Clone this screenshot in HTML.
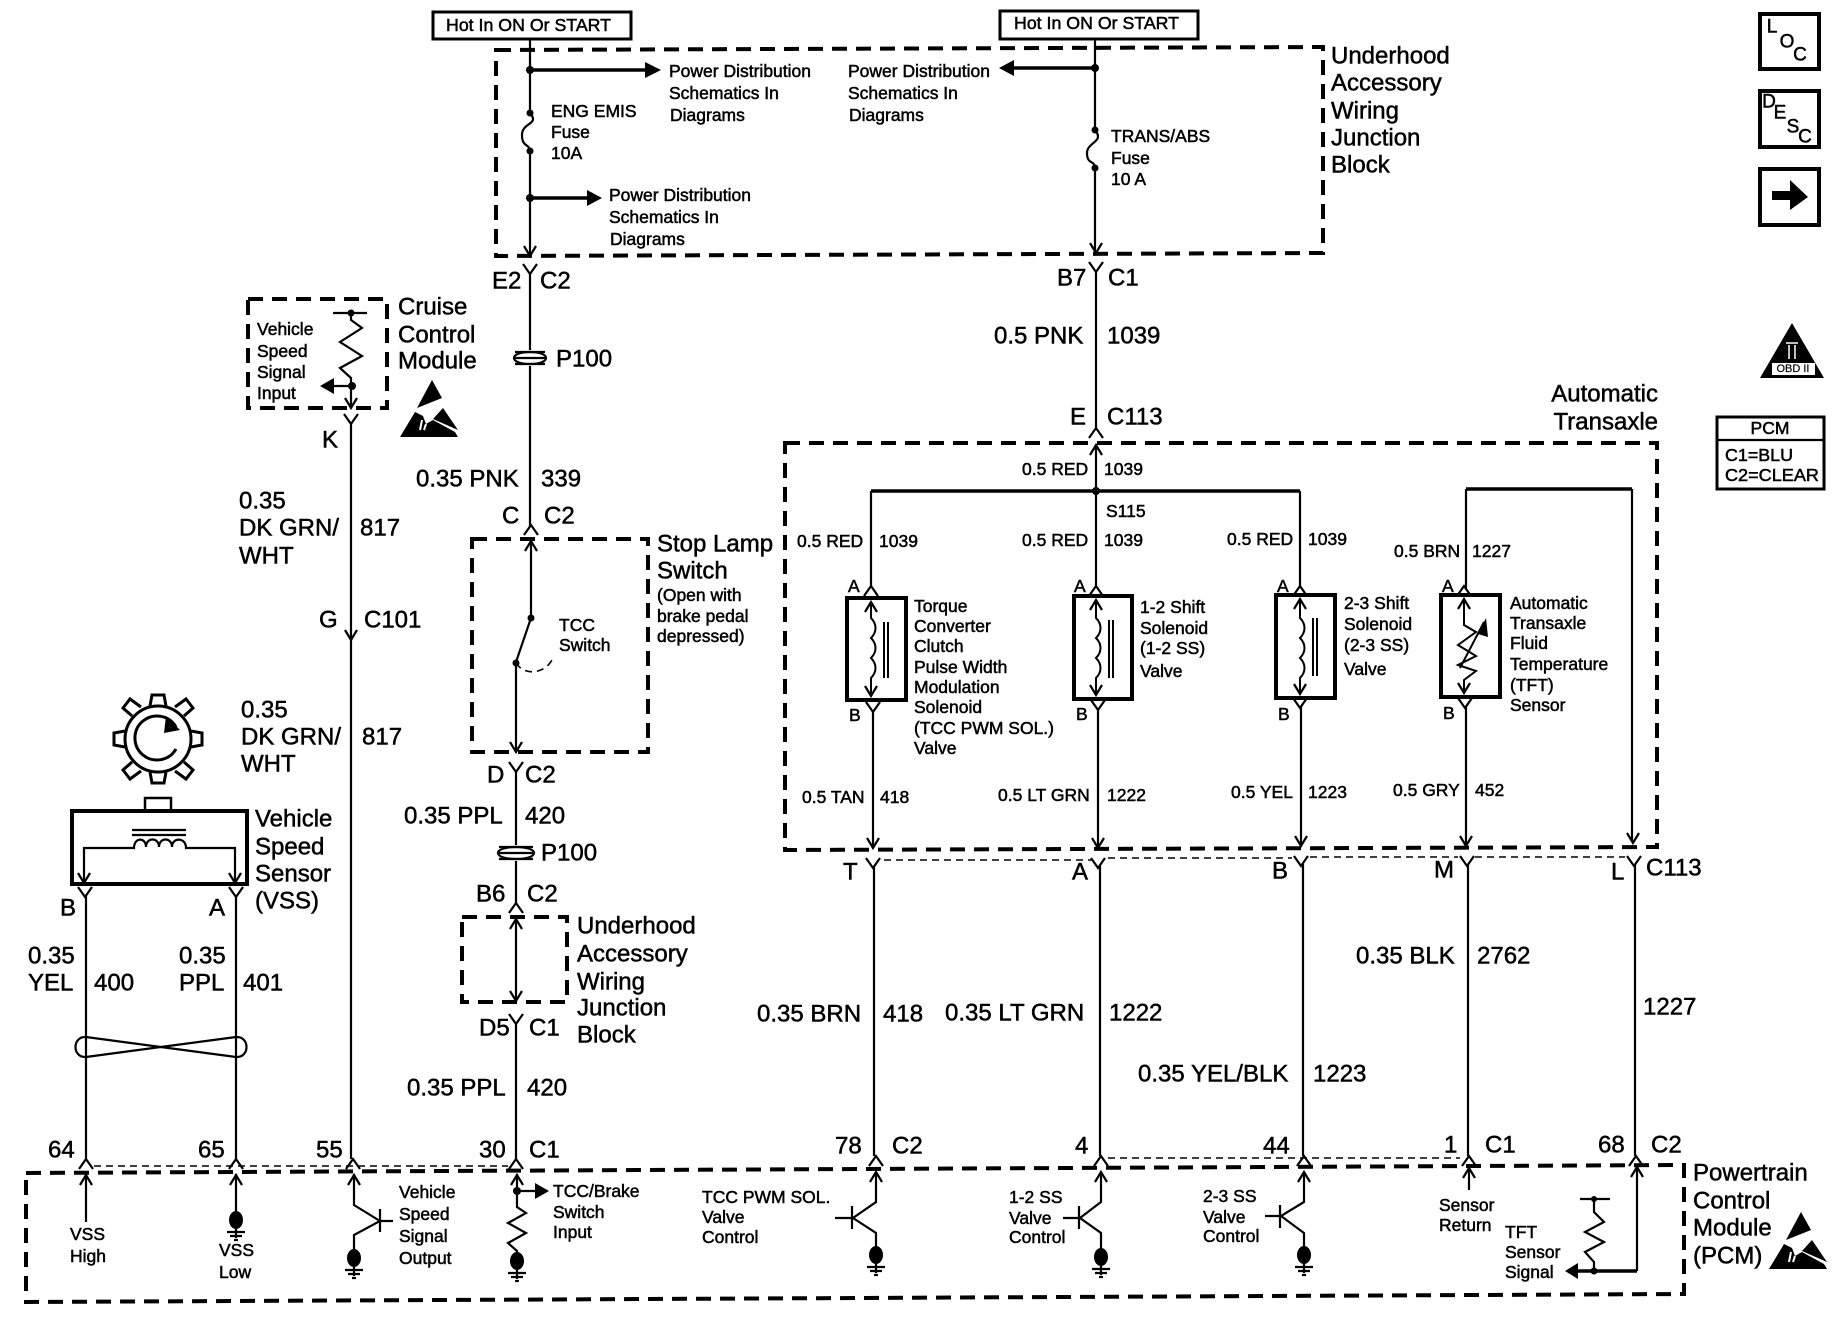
<!DOCTYPE html>
<html><head><meta charset="utf-8"><title>Wiring diagram</title>
<style>
html,body{margin:0;padding:0;background:#fff}
svg{display:block}
text{font-family:"Liberation Sans",sans-serif;fill:#000;stroke:#000;stroke-width:.5;dominant-baseline:central}
.b{font-size:24px}
.s{font-size:17.5px}
.w{fill:none;stroke:#000;stroke-width:2.2}
.t{fill:none;stroke:#000;stroke-width:3.4}
.d{fill:none;stroke:#000;stroke-width:4;stroke-dasharray:15 9}
.td{fill:none;stroke:#000;stroke-width:1.6;stroke-dasharray:7 5}
.f{fill:#000;stroke:none}
</style></head><body>
<svg width="1838" height="1344" viewBox="0 0 1838 1344" xmlns="http://www.w3.org/2000/svg">
<defs>
<path id="y" class="w" d="M-7-8L0 2L7-8"/>
<path id="c" class="w" d="M-7 8L0-2L7 8"/>
<path id="dn" class="w" d="M-6-10L0 0L6-10"/>
<path id="up" class="w" d="M-6 10L0 0L6 10"/>
<g id="g"><ellipse class="f" cx="0" cy="8" rx="7" ry="9"/><path class="w" d="M0 17V26M-9 20H9M-6 24H6M-2 28H2"/></g>
<g id="esd"><path class="f" d="M32 0L42 18L17 28Z"/><path class="f" d="M0 57L15 32L23 36L26 44L33 40L55 52L58 57Z"/><path class="f" d="M33 39L43 28L58 50Z"/><path d="M20 50L22 40M24 50L26 44" stroke="#fff" stroke-width="2" fill="none"/></g>
</defs>

<!-- Hot boxes -->
<rect x="433" y="12" width="198" height="27" fill="none" stroke="#000" stroke-width="3"/>
<text class="s" x="446" y="25" textLength="165" lengthAdjust="spacingAndGlyphs">Hot In ON Or START</text>
<rect x="1000" y="11" width="198" height="28" fill="none" stroke="#000" stroke-width="3"/>
<text class="s" x="1014" y="23" textLength="165" lengthAdjust="spacingAndGlyphs">Hot In ON Or START</text>

<!-- Underhood junction block top -->
<path class="d" d="M496 50L1323 47V253L496 256Z"/>
<text class="b" x="1331" y="56">Underhood</text>
<text class="b" x="1331" y="83">Accessory</text>
<text class="b" x="1331" y="111">Wiring</text>
<text class="b" x="1331" y="138">Junction</text>
<text class="b" x="1331" y="165">Block</text>

<path class="w" d="M530 39V112M530 152V255"/>
<path class="w" d="M530 113C540 125 522 122 522 135C522 148 530 143 530 152"/>
<circle class="f" cx="530" cy="113" r="3.5"/><circle class="f" cx="530" cy="151" r="3.5"/>
<path class="t" d="M530 70H650"/><path class="f" d="M645 62L661 70L645 78Z"/><circle class="f" cx="530" cy="70" r="4"/>
<path class="t" d="M530 198H592"/><path class="f" d="M587 190L602 198L587 206Z"/><circle class="f" cx="530" cy="198" r="4"/>
<use href="#dn" x="530" y="256"/>
<text class="s" x="669" y="71" textLength="142" lengthAdjust="spacingAndGlyphs">Power Distribution</text>
<text class="s" x="669" y="93">Schematics In</text>
<text class="s" x="670" y="115">Diagrams</text>
<text class="s" x="609" y="195" textLength="142" lengthAdjust="spacingAndGlyphs">Power Distribution</text>
<text class="s" x="609" y="217">Schematics In</text>
<text class="s" x="610" y="239">Diagrams</text>
<text class="s" x="551" y="111">ENG EMIS</text>
<text class="s" x="551" y="132">Fuse</text>
<text class="s" x="551" y="153">10A</text>

<path class="w" d="M1095 39V130M1095 168V253"/>
<path class="w" d="M1095 130C1105 142 1087 142 1087 153C1087 165 1095 160 1095 168"/>
<circle class="f" cx="1095" cy="130" r="3.5"/><circle class="f" cx="1095" cy="168" r="3.5"/>
<path class="t" d="M1095 68H1010"/><path class="f" d="M1014 60L999 68L1014 76Z"/><circle class="f" cx="1095" cy="68" r="4"/>
<use href="#dn" x="1096" y="253"/>
<text class="s" x="848" y="71" textLength="142" lengthAdjust="spacingAndGlyphs">Power Distribution</text>
<text class="s" x="848" y="93">Schematics In</text>
<text class="s" x="849" y="115">Diagrams</text>
<text class="s" x="1111" y="136">TRANS/ABS</text>
<text class="s" x="1111" y="158">Fuse</text>
<text class="s" x="1111" y="179">10 A</text>

<!-- E2 wire -->
<use href="#y" x="530" y="272"/>
<path class="w" d="M530 272V350M530 366V527"/>
<text class="b" x="492" y="281">E2</text><text class="b" x="540" y="281">C2</text>
<path class="w" d="M515 352H545M513 358H547M515 364H545" stroke-width="3"/>
<path class="w" d="M514 358C514 350 546 350 546 358C546 366 514 366 514 358Z"/>
<text class="b" x="556" y="359">P100</text>
<text class="b" x="416" y="479">0.35 PNK</text><text class="b" x="541" y="479">339</text>
<use href="#c" x="531" y="527"/>
<text class="b" x="502" y="516">C</text><text class="b" x="544" y="516">C2</text>

<!-- Stop lamp switch -->
<path class="d" d="M472 539H648V752H472Z"/>
<text class="b" x="657" y="544">Stop Lamp</text>
<text class="b" x="657" y="571">Switch</text>
<text class="s" x="657" y="595">(Open with</text>
<text class="s" x="657" y="616">brake pedal</text>
<text class="s" x="657" y="636">depressed)</text>
<text class="s" x="559" y="625">TCC</text>
<text class="s" x="559" y="645">Switch</text>
<path class="w" d="M531 540V618L516 662V751"/>
<use href="#up" x="531" y="541"/>
<circle class="f" cx="531" cy="618" r="3.5"/><circle class="f" cx="516" cy="663" r="3.5"/>
<path class="td" d="M516 663C525 677 545 673 552 660" stroke-dasharray="3 3"/>
<use href="#dn" x="516" y="752"/>

<use href="#y" x="516" y="770"/>
<text class="b" x="487" y="775">D</text><text class="b" x="525" y="775">C2</text>
<path class="w" d="M516 770V845M516 861V905"/>
<text class="b" x="404" y="816">0.35 PPL</text><text class="b" x="525" y="816">420</text>
<path class="w" d="M499 847H533M497 853H535M499 859H533" stroke-width="3"/>
<path class="w" d="M498 853C498 845 534 845 534 853C534 861 498 861 498 853Z"/>
<text class="b" x="541" y="853">P100</text>
<text class="b" x="476" y="894">B6</text><text class="b" x="527" y="894">C2</text>
<use href="#c" x="516" y="905"/>
<path class="d" d="M462 917H567V1002H462Z"/>
<path class="w" d="M516 919V1000"/><use href="#up" x="516" y="919"/><use href="#dn" x="516" y="1001"/>
<text class="b" x="577" y="926">Underhood</text>
<text class="b" x="577" y="954">Accessory</text>
<text class="b" x="577" y="982">Wiring</text>
<text class="b" x="577" y="1008">Junction</text>
<text class="b" x="577" y="1035">Block</text>
<use href="#y" x="516" y="1022"/>
<text class="b" x="479" y="1028">D5</text><text class="b" x="529" y="1028">C1</text>
<path class="w" d="M516 1022V1159"/>
<text class="b" x="407" y="1088">0.35 PPL</text><text class="b" x="527" y="1088">420</text>
<use href="#c" x="516" y="1161"/>
<text class="b" x="479" y="1150">30</text><text class="b" x="529" y="1150">C1</text>

<!-- Cruise control -->
<path class="d" d="M248 299H387V408H248Z" stroke-dasharray="16 14"/>
<path class="w" d="M333 313H367M351 313V320L362 328L340 342L362 356L340 368L351 378V408M351 386H326" />
<circle class="f" cx="351" cy="313" r="3.5"/><circle class="f" cx="352" cy="386" r="4"/>
<path class="f" d="M320 386L334 378V394Z"/><use href="#dn" x="351" y="408"/>
<text class="s" x="257" y="329">Vehicle</text>
<text class="s" x="257" y="351">Speed</text>
<text class="s" x="257" y="372">Signal</text>
<text class="s" x="257" y="393">Input</text>
<text class="b" x="398" y="307">Cruise</text>
<text class="b" x="398" y="335">Control</text>
<text class="b" x="398" y="361">Module</text>
<use href="#esd" x="400" y="380"/>
<use href="#y" x="351" y="422"/>
<text class="b" x="322" y="440">K</text>
<path class="w" d="M351 422V1159"/>
<text class="b" x="239" y="501">0.35</text>
<text class="b" x="239" y="528">DK GRN/</text>
<text class="b" x="239" y="556">WHT</text>
<text class="b" x="360" y="528">817</text>
<text class="b" x="319" y="620">G</text><text class="b" x="364" y="620">C101</text>
<use href="#dn" x="351" y="640"/>
<text class="b" x="241" y="710">0.35</text>
<text class="b" x="241" y="737">DK GRN/</text>
<text class="b" x="241" y="764">WHT</text>
<text class="b" x="362" y="737">817</text>

<!-- Gear -->
<g fill="none" stroke="#000" stroke-width="3">
<circle cx="158" cy="739" r="33"/>
<path d="M150 706l2-11h12l2 11M150 772l2 11h12l2-11"/>
<path d="M125 731l-11 2v12l11 2M191 731l11 2v12l-11 2"/>
<path d="M132 716l-9-8l7-9l11 8M184 716l9-8l-7-9l-11 8M132 762l-9 8l7 9l11-8M184 762l9 8l-7 9l-11-8"/>
<path d="M176 749A22 22 0 1 1 176 727"/>
</g>
<path class="f" d="M166 716L180 730L164 733Z"/>

<!-- VSS -->
<rect x="145" y="798" width="26" height="13" fill="none" stroke="#000" stroke-width="2.5"/>
<rect x="72" y="811" width="175" height="73" fill="none" stroke="#000" stroke-width="4"/>
<path class="w" d="M132 830H186M132 835H186" stroke-width="2.5"/>
<path class="w" d="M84 884V848H134C134 837 146 837 146 847C146 837 159 837 159 847C159 837 172 837 172 847C172 837 186 837 186 848H235V884"/>
<use href="#dn" x="84" y="883"/><use href="#dn" x="235" y="883"/>
<text class="b" x="255" y="819">Vehicle</text>
<text class="b" x="255" y="847">Speed</text>
<text class="b" x="255" y="874">Sensor</text>
<text class="b" x="255" y="901">(VSS)</text>
<use href="#y" x="85" y="895"/><use href="#y" x="236" y="895"/>
<text class="b" x="60" y="908">B</text><text class="b" x="209" y="908">A</text>
<path class="w" d="M86 895V1159M236 895V1159"/>
<text class="b" x="28" y="956">0.35</text><text class="b" x="28" y="983">YEL</text><text class="b" x="94" y="983">400</text>
<text class="b" x="179" y="956">0.35</text><text class="b" x="179" y="983">PPL</text><text class="b" x="243" y="983">401</text>
<path class="w" stroke-width="2.5" d="M86 1037C72 1036 72 1058 86 1057L236 1037C250 1036 250 1058 236 1057Z"/>

<text class="b" x="48" y="1150">64</text><text class="b" x="198" y="1150">65</text><text class="b" x="316" y="1150">55</text>
<use href="#c" x="86" y="1161"/><use href="#c" x="236" y="1161"/><use href="#c" x="353" y="1161"/>

<!-- thin dash between PCM connectors -->
<path class="td" d="M94 1166H508"/>
<path class="td" d="M1108 1158H1460"/>
<path class="td" d="M884 860H1092M1108 858H1292M1310 857H1458M1475 857H1625"/>

<!-- PCM -->
<path class="d" d="M26 1173L1684 1165V1294L26 1302Z"/>
<text class="b" x="1693" y="1173">Powertrain</text>
<text class="b" x="1693" y="1201">Control</text>
<text class="b" x="1693" y="1228">Module</text>
<text class="b" x="1693" y="1256">(PCM)</text>
<use href="#esd" x="1769" y="1212"/>

<path class="w" d="M86 1174V1222"/><use href="#up" x="86" y="1175"/>
<text class="s" x="70" y="1234">VSS</text><text class="s" x="70" y="1256">High</text>
<path class="w" d="M236 1174V1212"/><use href="#up" x="236" y="1175"/><use href="#g" x="236" y="1212"/>
<text class="s" x="219" y="1250">VSS</text><text class="s" x="219" y="1272">Low</text>

<!-- transistors -->
<path class="w" d="M354 1174V1205L380 1221L354 1235V1252M380 1209V1232M380 1221H393"/><use href="#up" x="354" y="1175"/><use href="#g" x="354" y="1250"/>
<text class="s" x="399" y="1192">Vehicle</text><text class="s" x="399" y="1214">Speed</text><text class="s" x="399" y="1236">Signal</text><text class="s" x="399" y="1258">Output</text>

<path class="w" d="M517 1174V1207L526 1213L508 1223L526 1233L508 1243L517 1251V1256M517 1191H540"/><use href="#up" x="517" y="1175"/>
<circle class="f" cx="517" cy="1191" r="4"/><path class="f" d="M535 1183L549 1191L535 1199Z"/><use href="#g" x="517" y="1253"/>
<text class="s" x="553" y="1191">TCC/Brake</text><text class="s" x="553" y="1212">Switch</text><text class="s" x="553" y="1232">Input</text>

<text class="s" x="702" y="1197">TCC PWM SOL.</text><text class="s" x="702" y="1217">Valve</text><text class="s" x="702" y="1237">Control</text>
<path class="w" d="M876 1172V1202L853 1218L876 1233V1250M852 1206V1229M852 1218H835" stroke-width="2.6"/><use href="#up" x="876" y="1172"/><use href="#g" x="876" y="1247"/>

<text class="s" x="1009" y="1197">1-2 SS</text><text class="s" x="1009" y="1218">Valve</text><text class="s" x="1009" y="1237">Control</text>
<path class="w" d="M1101 1172V1202L1080 1218L1101 1233V1252M1079 1206V1229M1079 1218H1063" stroke-width="2.6"/><use href="#up" x="1101" y="1172"/><use href="#g" x="1101" y="1249"/>

<text class="s" x="1203" y="1196">2-3 SS</text><text class="s" x="1203" y="1217">Valve</text><text class="s" x="1203" y="1236">Control</text>
<path class="w" d="M1304 1172V1202L1281 1216L1304 1233V1250M1280 1205V1228M1280 1216H1265" stroke-width="2.6"/><use href="#up" x="1304" y="1172"/><use href="#g" x="1304" y="1247"/>

<path class="w" d="M1469 1168V1190"/><use href="#up" x="1469" y="1168"/>
<text class="s" x="1439" y="1205">Sensor</text><text class="s" x="1439" y="1225">Return</text>
<text class="s" x="1505" y="1232">TFT</text><text class="s" x="1505" y="1252">Sensor</text><text class="s" x="1505" y="1272">Signal</text>
<path class="w" d="M1580 1199H1610M1594 1199V1212L1604 1222L1585 1232L1604 1242L1585 1252L1594 1262V1271"/>
<circle class="f" cx="1594" cy="1199" r="3"/><circle class="f" cx="1594" cy="1271" r="3.5"/>
<path class="t" d="M1576 1271H1637"/><path class="w" d="M1637 1271V1166"/><use href="#up" x="1637" y="1167"/>
<path class="f" d="M1565 1271L1578 1263V1279Z"/>

<!-- Right-hand wire & Automatic Transaxle -->
<use href="#y" x="1096" y="270"/>
<text class="b" x="1057" y="278">B7</text><text class="b" x="1108" y="278">C1</text>
<path class="w" d="M1096 270V428"/>
<text class="b" x="994" y="336">0.5 PNK</text><text class="b" x="1107" y="336">1039</text>
<text class="b" x="1070" y="417">E</text><text class="b" x="1107" y="417">C113</text>
<use href="#c" x="1096" y="430"/>
<text class="b" x="1658" y="394" text-anchor="end">Automatic</text>
<text class="b" x="1658" y="422" text-anchor="end">Transaxle</text>

<path class="d" d="M785 443H1657V847L785 850Z"/>
<path class="w" d="M1096 445V588"/><use href="#up" x="1096" y="445"/>
<path class="t" d="M871 491H1300" stroke-width="3"/><circle class="f" cx="1096" cy="491" r="4"/>
<path class="w" d="M871 491V588M1300 491V588"/>
<path class="t" stroke-width="3" d="M1632 489H1466"/>
<path class="w" d="M1466 489V588M1632 489V842"/><use href="#dn" x="1633" y="843"/>
<text class="s" x="1022" y="469">0.5 RED</text><text class="s" x="1104" y="469">1039</text>
<text class="s" x="1106" y="511">S115</text>
<text class="s" x="797" y="541">0.5 RED</text><text class="s" x="879" y="541">1039</text>
<text class="s" x="1022" y="540">0.5 RED</text><text class="s" x="1104" y="540">1039</text>
<text class="s" x="1227" y="539">0.5 RED</text><text class="s" x="1308" y="539">1039</text>
<text class="s" x="1394" y="551">0.5 BRN</text><text class="s" x="1472" y="551">1227</text>

<use href="#c" x="871" y="588"/><use href="#c" x="1096" y="588"/><use href="#c" x="1300" y="588"/><use href="#c" x="1464" y="588"/>
<text class="s" x="848" y="586">A</text><text class="s" x="1074" y="586">A</text><text class="s" x="1277" y="586">A</text><text class="s" x="1442" y="586">A</text>

<g fill="none" stroke="#000" stroke-width="4">
<rect x="847" y="598" width="59" height="102"/><rect x="1074" y="596" width="58" height="103"/><rect x="1276" y="595" width="59" height="103"/><rect x="1441" y="595" width="59" height="102"/>
</g>
<g fill="none" stroke="#000" stroke-width="2">
<path d="M871 602V618C877 624 877 632 871 638C877 644 877 652 871 658C877 664 877 672 871 678V696"/><path d="M884 622V678M888 622V678"/>
<path d="M1096 600V618C1102 624 1102 632 1096 638C1102 644 1102 652 1096 658C1102 664 1102 672 1096 678V695"/><path d="M1109 620V678M1113 620V678"/>
<path d="M1300 599V618C1306 624 1306 632 1300 638C1306 644 1306 652 1300 658C1306 664 1306 672 1300 678V694"/><path d="M1313 618V676M1317 618V676"/>
<path d="M1464 599V625L1476 632L1458 645L1476 656L1458 665L1476 671L1464 680V693"/><path d="M1460 668L1484 622"/>
</g>
<g>
<use href="#up" x="871" y="602"/><use href="#dn" x="871" y="696"/><use href="#up" x="1096" y="600"/><use href="#dn" x="1096" y="695"/>
<use href="#up" x="1300" y="599"/><use href="#dn" x="1300" y="694"/><use href="#up" x="1464" y="599"/><use href="#dn" x="1464" y="693"/>
</g>
<path class="f" d="M1486 618L1478 634L1488 637Z"/>

<text class="s" x="914" y="606">Torque</text><text class="s" x="914" y="626">Converter</text><text class="s" x="914" y="646">Clutch</text><text class="s" x="914" y="667">Pulse Width</text><text class="s" x="914" y="687">Modulation</text><text class="s" x="914" y="707">Solenoid</text><text class="s" x="914" y="728">(TCC PWM SOL.)</text><text class="s" x="914" y="748">Valve</text>
<text class="s" x="1140" y="607">1-2 Shift</text><text class="s" x="1140" y="628">Solenoid</text><text class="s" x="1140" y="648">(1-2 SS)</text><text class="s" x="1140" y="671">Valve</text>
<text class="s" x="1344" y="603">2-3 Shift</text><text class="s" x="1344" y="624">Solenoid</text><text class="s" x="1344" y="645">(2-3 SS)</text><text class="s" x="1344" y="669">Valve</text>
<text class="s" x="1510" y="603">Automatic</text><text class="s" x="1510" y="623">Transaxle</text><text class="s" x="1510" y="643">Fluid</text><text class="s" x="1510" y="664">Temperature</text><text class="s" x="1510" y="685">(TFT)</text><text class="s" x="1510" y="705">Sensor</text>

<use href="#y" x="873" y="710"/><use href="#y" x="1098" y="708"/><use href="#y" x="1300" y="706"/><use href="#y" x="1465" y="706"/>
<text class="s" x="849" y="715">B</text><text class="s" x="1076" y="714">B</text><text class="s" x="1278" y="714">B</text><text class="s" x="1443" y="713">B</text>
<path class="w" d="M873 710V848M1098 708V848M1301 706V846M1466 706V846"/>
<use href="#dn" x="873" y="848"/><use href="#dn" x="1098" y="848"/><use href="#dn" x="1301" y="846"/><use href="#dn" x="1466" y="846"/>
<text class="s" x="802" y="797">0.5 TAN</text><text class="s" x="880" y="797">418</text>
<text class="s" x="998" y="795">0.5 LT GRN</text><text class="s" x="1107" y="795">1222</text>
<text class="s" x="1231" y="792">0.5 YEL</text><text class="s" x="1308" y="792">1223</text>
<text class="s" x="1393" y="790">0.5 GRY</text><text class="s" x="1475" y="790">452</text>

<!-- Lower wires to PCM -->
<use href="#y" x="873" y="866"/><use href="#y" x="1098" y="866"/><use href="#y" x="1301" y="864"/><use href="#y" x="1467" y="864"/><use href="#y" x="1634" y="864"/>
<text class="b" x="843" y="872">T</text><text class="b" x="1072" y="872">A</text><text class="b" x="1272" y="871">B</text><text class="b" x="1434" y="870">M</text><text class="b" x="1611" y="872">L</text><text class="b" x="1646" y="868">C113</text>
<path class="w" d="M874 866V1156M1100 866V1156M1303 864V1156M1468 864V1156M1635 864V1156"/>
<text class="b" x="757" y="1014">0.35 BRN</text><text class="b" x="883" y="1014">418</text>
<text class="b" x="945" y="1013">0.35 LT GRN</text><text class="b" x="1109" y="1013">1222</text>
<text class="b" x="1138" y="1074">0.35 YEL/BLK</text><text class="b" x="1313" y="1074">1223</text>
<text class="b" x="1356" y="956">0.35 BLK</text><text class="b" x="1477" y="956">2762</text>
<text class="b" x="1643" y="1007">1227</text>
<use href="#c" x="876" y="1158"/><use href="#c" x="1101" y="1158"/><use href="#c" x="1304" y="1158"/><use href="#c" x="1469" y="1158"/><use href="#c" x="1636" y="1158"/>
<text class="b" x="835" y="1146">78</text><text class="b" x="892" y="1146">C2</text>
<text class="b" x="1075" y="1146">4</text>
<text class="b" x="1263" y="1146">44</text>
<text class="b" x="1444" y="1145">1</text><text class="b" x="1485" y="1145">C1</text>
<text class="b" x="1598" y="1145">68</text><text class="b" x="1651" y="1145">C2</text>

<!-- Right icons -->
<rect x="1760" y="14" width="59" height="55" fill="none" stroke="#000" stroke-width="4"/>
<g style="font-size:19px" text-anchor="middle">
<text x="1772" y="27">L</text><text x="1787" y="42">O</text><text x="1800" y="55">C</text>
</g>
<rect x="1760" y="91" width="59" height="56" fill="none" stroke="#000" stroke-width="4"/>
<g style="font-size:19px" text-anchor="middle">
<text x="1769" y="102">D</text><text x="1780" y="113">E</text><text x="1793" y="127">S</text><text x="1805" y="137">C</text>
</g>
<rect x="1760" y="169" width="59" height="56" fill="none" stroke="#000" stroke-width="4"/>
<path class="f" d="M1772 191H1790V180L1808 197L1790 210V200H1772Z"/>
<path class="f" d="M1792 323L1760 378H1824Z"/>
<rect x="1772" y="363" width="43" height="12" fill="#fff"/>
<text x="1793" y="369" text-anchor="middle" style="font-size:11px;stroke-width:.2">OBD II</text>
<path d="M1789 345V359M1795 345V359M1786 343H1798" stroke="#fff" stroke-width="1.5" fill="none"/>
<rect x="1717" y="417" width="107" height="72" fill="none" stroke="#000" stroke-width="3"/>
<path class="w" stroke-width="3" d="M1717 440H1824"/>
<text class="s" x="1770" y="428" text-anchor="middle">PCM</text>
<text class="s" x="1725" y="455" textLength="68" lengthAdjust="spacingAndGlyphs">C1=BLU</text>
<text class="s" x="1725" y="475" textLength="94" lengthAdjust="spacingAndGlyphs">C2=CLEAR</text>
</svg>
</body></html>
